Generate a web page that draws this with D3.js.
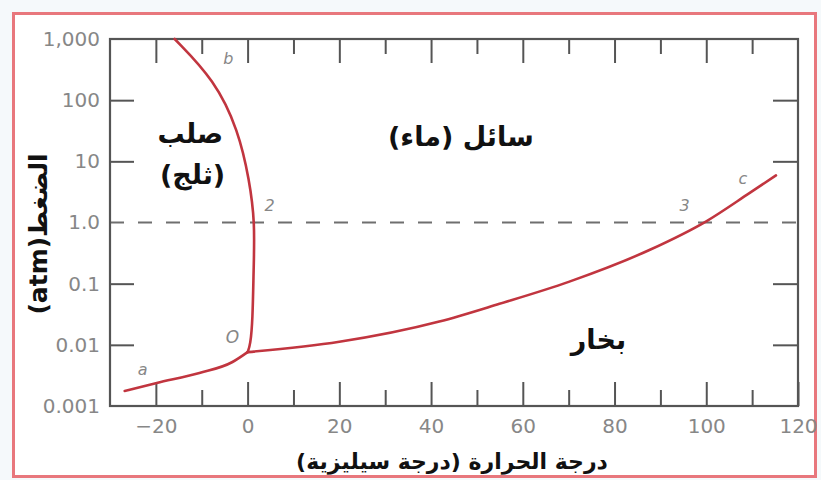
<!DOCTYPE html>
<html>
<head>
<meta charset="utf-8">
<script src="https://cdn.jsdelivr.net/npm/d3@7"></script>
<style>
  html, body { margin: 0; padding: 0; background: #f5f9fb; }
  svg { display: block; }
</style>
</head>
<body>
<svg id="chart" width="821" height="480"></svg>
<script>
// Phase diagram of water: temperature (°C) against pressure (atm, log scale)

// Sublimation curve a → O (solid / vapour)
const sublimationT = [-26.8, -19.8, -10.5, -3.3, 0];
const sublimationP = [0.00176, 0.00238, 0.00346, 0.00524, 0.0076];

// Fusion curve O → b (solid / liquid)
const fusionT = [0, 0.6, 1.1, 1.3, 1.6, 0.4, -2.0, -7.2, -15.9];
const fusionP = [0.0076, 0.0099, 0.025, 0.167, 1.0, 4.9, 32, 214, 1000];

// Vaporisation curve O → c (liquid / vapour)
const vaporT = [0, 20, 41.8, 54.9, 70, 87.6, 100, 109.4, 115.2];
const vaporP = [0.0076, 0.0112, 0.024, 0.0468, 0.107, 0.355, 1.047, 3.02, 5.89];

// Axis ticks
const xMajor = [-20, 0, 20, 40, 60, 80, 100, 120];
const xMinor = [-10, 10, 30, 50, 70, 90, 110];
const yTicks = [0.001, 0.01, 0.1, 1, 10, 100, 1000];
const yTickLabels = ["0.001", "0.01", "0.1", "1.0", "10", "100", "1,000"];

// Text
const xTitle = "درجة الحرارة (درجة سيليزية)";
const yTitle = "(atm)الضغط";
const regionLabels = [
  { text: "صلب", T: -12.5, P: 28 },
  { text: "(ثلج)", T: -12, P: 6 },
  { text: "سائل (ماء)", T: 46.5, P: 25 },
  { text: "بخار", T: 76.5, P: 0.012 }
];
const pointLabels = [
  { text: "b", T: -4.2, P: 480 },
  { text: "2", T: 4.8, P: 1.9 },
  { text: "3", T: 95.3, P: 1.9 },
  { text: "c", T: 108, P: 5.2 },
  { text: "a", T: -22.9, P: 0.0039 },
  { text: "O", T: -3.3, P: 0.0133 }
];

const svg = d3.select("#chart");
const W = 821, H = 480;
const plotLeft = 110, plotRight = 798, plotTop = 39, plotBottom = 406;

// Outer border
svg.append("rect").attr("x", 0).attr("y", 0).attr("width", W).attr("height", H).attr("fill", "#f5f9fb");
svg.append("rect")
  .attr("x", 13.5).attr("y", 13.5).attr("width", 802).attr("height", 463)
  .attr("fill", "#ffffff").attr("stroke", "#e8777d").attr("stroke-width", 3);

const x = d3.scaleLinear().domain([-30, 120]).range([plotLeft, plotRight]);
const y = d3.scaleLog().domain([0.001, 1000]).range([plotBottom, plotTop]);

const axisColor = "#555555";
const labelColor = "#878787";
const tickFont = "'DejaVu Sans', Verdana, sans-serif";
const arabicFont = "'DejaVu Sans', sans-serif";

function styleAxis(g) {
  g.select(".domain").remove();
  g.selectAll(".tick line").attr("stroke", axisColor).attr("stroke-width", 2);
  g.selectAll(".tick text").attr("fill", labelColor).attr("font-size", 20).attr("font-family", tickFont);
}

// Bottom axis: labelled major ticks and unlabelled minor ticks, pointing inwards
svg.append("g").attr("transform", `translate(0,${plotBottom})`)
  .call(d3.axisBottom(x).tickValues(xMajor).tickSize(-24).tickPadding(13).tickFormat(d3.format("d")))
  .call(styleAxis)
  .call(g => g.selectAll(".tick text").text(d => d < 0 ? "\u2212" + Math.abs(d) : d));
svg.append("g").attr("transform", `translate(0,${plotBottom})`)
  .call(d3.axisBottom(x).tickValues(xMinor).tickSize(-16).tickFormat(""))
  .call(styleAxis);

// Top axis ticks
svg.append("g").attr("transform", `translate(0,${plotTop})`)
  .call(d3.axisTop(x).tickValues(xMajor.filter(v => v < 120)).tickSize(-24).tickFormat(""))
  .call(styleAxis);
svg.append("g").attr("transform", `translate(0,${plotTop})`)
  .call(d3.axisTop(x).tickValues(xMinor).tickSize(-15).tickFormat(""))
  .call(styleAxis);

// Left axis with labels
svg.append("g").attr("transform", `translate(${plotLeft},0)`)
  .call(d3.axisLeft(y).tickValues(yTicks).tickSize(-24).tickPadding(10)
    .tickFormat((d, i) => yTickLabels[i]))
  .call(styleAxis)
  .call(g => g.selectAll(".tick line").filter(d => d === 0.001 || d === 1000 || d === 1).remove());

// Right axis ticks
svg.append("g").attr("transform", `translate(${plotRight},0)`)
  .call(d3.axisRight(y).tickValues(yTicks.filter(d => d > 0.001 && d < 1000 && d !== 1)).tickSize(-25).tickFormat(""))
  .call(styleAxis);

// 1 atm reference line
svg.append("line")
  .attr("x1", plotLeft).attr("x2", plotRight).attr("y1", y(1)).attr("y2", y(1))
  .attr("stroke", "#6f6f6f").attr("stroke-width", 2.2).attr("stroke-dasharray", "14,14");

// Plot frame
svg.append("rect")
  .attr("x", plotLeft).attr("y", plotTop).attr("width", plotRight - plotLeft).attr("height", plotBottom - plotTop)
  .attr("fill", "none").attr("stroke", axisColor).attr("stroke-width", 2.2);

// Phase boundaries
const curveColor = "#c1353f";
const line = d3.line().x(d => x(d[0])).y(d => y(d[1]));
const curves = [
  { T: sublimationT, P: sublimationP, curve: d3.curveMonotoneX },
  { T: vaporT, P: vaporP, curve: d3.curveMonotoneX },
  { T: fusionT, P: fusionP, curve: d3.curveBasis }
];
curves.forEach(c => {
  svg.append("path")
    .datum(c.T.map((t, i) => [t, c.P[i]]))
    .attr("d", line.curve(c.curve))
    .attr("fill", "none")
    .attr("stroke", curveColor)
    .attr("stroke-width", 2.6)
    .attr("stroke-linejoin", "round")
    .attr("stroke-linecap", "round");
});

// Point letters
svg.selectAll("text.pt").data(pointLabels).join("text")
  .attr("class", "pt")
  .attr("x", d => x(d.T)).attr("y", d => y(d.P))
  .attr("text-anchor", "middle").attr("dominant-baseline", "central")
  .attr("font-family", tickFont).attr("font-style", "italic")
  .attr("font-size", d => d.text === "O" ? 17 : 16)
  .attr("fill", labelColor)
  .text(d => d.text);

// Region names
svg.selectAll("text.region").data(regionLabels).join("text")
  .attr("class", "region")
  .attr("x", d => x(d.T)).attr("y", d => y(d.P))
  .attr("text-anchor", "middle").attr("dominant-baseline", "central")
  .attr("font-family", arabicFont).attr("font-weight", "bold")
  .attr("font-size", 27).attr("fill", "#111111")
  .text(d => d.text);

// Axis titles
svg.append("text")
  .attr("x", 452).attr("y", 461)
  .attr("text-anchor", "middle").attr("dominant-baseline", "central")
  .attr("font-family", arabicFont).attr("font-weight", "bold")
  .attr("font-size", 22).attr("fill", "#111111")
  .text(xTitle);

svg.append("text")
  .attr("transform", "translate(38,234) rotate(-90)")
  .attr("text-anchor", "middle").attr("dominant-baseline", "central")
  .attr("font-family", arabicFont).attr("font-weight", "bold")
  .attr("font-size", 25).attr("fill", "#111111")
  .text(yTitle);
</script>
</body>
</html>
